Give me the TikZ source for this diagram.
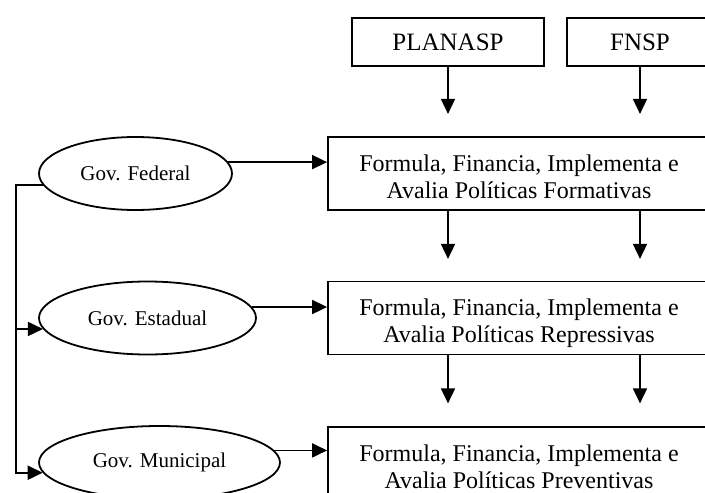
\documentclass[tikz,border=0pt]{standalone}
\usepackage{fontspec}
\setmainfont{Liberation Serif}
\usetikzlibrary{arrows.meta}
\usetikzlibrary{shapes.geometric}

\tikzset{
  srcbox/.style={draw, rectangle, minimum width=192pt, minimum height=48pt, inner sep=0pt, font=\fontsize{25}{28}\selectfont},
  polbox/.style={draw, rectangle, minimum width=382pt, minimum height=73pt, inner sep=0pt, align=center, text height=49pt, text depth=0pt, font=\fontsize{24}{27}\selectfont},
  govnode/.style={draw, ellipse, inner sep=0pt, minimum height=73pt, font=\fontsize{21}{24}\selectfont},
}

\begin{document}
\begin{tikzpicture}[x=1pt, y=-1pt, line width=1.8pt, >={Triangle[length=15pt, width=14pt]}]
        \clip (0,0) rectangle (705,493);
        \def\drop{48}

        % funding sources
        \node[srcbox] (planasp) at (448,42) {PLANASP};
        \node[srcbox, minimum width=146pt] (fnsp) at (640,42) {FNSP};

        % policy boxes
        \node[polbox] (form) at (519,173.5) {Formula, Financia, Implementa e\\Avalia Políticas Formativas};
        \node[polbox] (repr) at (519,318) {Formula, Financia, Implementa e\\Avalia Políticas Repressivas};
        \node[polbox] (prev) at (519,463.5) {Formula, Financia, Implementa e\\Avalia Políticas Preventivas};

        % government levels
        \node[govnode, minimum width=193pt] (fed) at (135.5,173.5) {Gov. Federal};
        \node[govnode, minimum width=217pt] (est) at (147.5,318) {Gov. Estadual};
        \node[govnode, minimum width=241pt] (mun) at (159.5,462.5) {Gov. Municipal};

        \coordinate (trunk) at (16,0);

        \foreach \src in {planasp, fnsp}{
            \draw[->] (\src.south) -- ++(0,\drop-1);
            \draw[->] (form.south -| \src) -- ++(0,\drop);
            \draw[->] (repr.south -| \src) -- ++(0,\drop);
        }

        \draw[->] (fed.7) -- (fed.7 -| form.west);
        \draw[->] (est.6) -- (est.6 -| repr.west);
        \draw[->] (mun.6) -- (mun.6 -| prev.west);

        \draw[->] (fed.187) -- (fed.187 -| trunk) |- (mun.185);
        \draw[->] (est.186 -| trunk) -- (est.186);

    \end{tikzpicture}
\end{document}
